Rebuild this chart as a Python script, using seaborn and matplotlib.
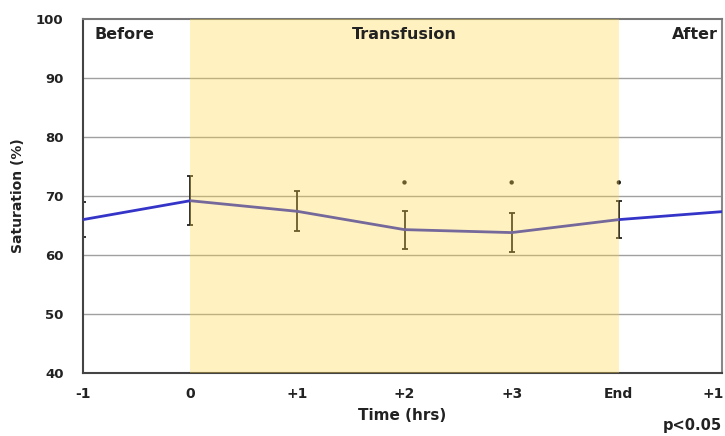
import numpy as np
import pandas as pd
import matplotlib
matplotlib.use("Agg")
import matplotlib.pyplot as plt
import matplotlib.transforms as mtransforms
import seaborn as sns

# values
time_labels = ["-1", "0", "+1", "+2", "+3", "End", "+1"]
saturation = [66.0, 69.2, 67.4, 64.3, 63.8, 66.0, 67.4]
sd = [3.0, 4.2, 3.4, 3.2, 3.3, 3.1, 3.0]
sig_index = [3, 4, 5]   # +2, +3, End
sig_y = 72.3

df = pd.DataFrame({"pos": np.arange(len(time_labels)), "label": time_labels,
                   "sat": saturation, "sd": sd})

sns.set_style("white")
plt.rcParams["font.family"] = ["DejaVu Sans"]
plt.rcParams["font.weight"] = "bold"

fig = plt.figure(figsize=(7.25, 4.36), dpi=100)
ax = fig.add_axes([83 / 725, 63 / 436, 639 / 725, 354 / 436])

# horizontal grid
for g in [50, 60, 70, 80, 90]:
    ax.axhline(g, color="#a0a0a0", lw=1, zorder=1)

ax.errorbar(df["pos"], df["sat"], yerr=df["sd"], fmt="none", ecolor="#222222",
            elinewidth=1.3, capsize=2, capthick=1.3, zorder=2)
sns.lineplot(data=df, x="pos", y="sat", color="#3434c8", lw=2, ax=ax, zorder=3)

sns.scatterplot(x=sig_index, y=[sig_y] * len(sig_index), color="#222222", s=10,
                marker="o", edgecolor="none", ax=ax, zorder=3)

# transfusion period shading, drawn on top
ax.axvspan(1, 5, color="#ffd73c", alpha=0.32, lw=0, zorder=4)

xmax = 6 * 639 / 643
ax.set_xlim(0, xmax)
ax.set_ylim(40, 100)
ax.set_yticks([40, 50, 60, 70, 80, 90, 100])
ax.set_xticks(df["pos"][:-1])
ax.set_xticklabels(time_labels[:-1])
ax.tick_params(axis="both", direction="out", length=4, width=1, color="#444444")
ax.tick_params(axis="x", labelsize=10, pad=6)
ax.tick_params(axis="y", labelsize=9.5, pad=10)
for lab in ax.get_xticklabels() + ax.get_yticklabels():
    lab.set_fontweight("bold")
    lab.set_color("#222222")

# last tick label, at the figure edge
fig.text(724 / 725, 1 - 394 / 436, time_labels[-1], ha="right", va="center",
         fontsize=10, fontweight="bold", color="#222222")

for s in ax.spines.values():
    s.set_color("#444444")
    s.set_linewidth(1.5)
ax.spines["right"].set_color("#888888")
ax.spines["top"].set_color("#777777")

ax.set_xlabel("Time (hrs)", fontsize=11, fontweight="bold", labelpad=5,
              color="#222222")
ax.set_ylabel("Saturation (%)", fontsize=10, fontweight="bold", labelpad=8,
              color="#222222")

trans = mtransforms.blended_transform_factory(ax.transData, ax.transAxes)
ax.text(0.018, 0.955, "Before", transform=ax.transAxes, fontsize=11.5,
        fontweight="bold", va="center", ha="left", color="#222222", zorder=5)
ax.text(3, 0.955, "Transfusion", transform=trans, fontsize=11.5,
        fontweight="bold", va="center", ha="center", color="#222222", zorder=5)
ax.text(0.994, 0.955, "After", transform=ax.transAxes, fontsize=11.5,
        fontweight="bold", va="center", ha="right", color="#222222", zorder=5)
fig.text(722 / 725, 1 - 425 / 436, "p<0.05", fontsize=10.5, fontweight="bold",
         ha="right", va="center", color="#222222")

fig.savefig("out.png", dpi=100)
